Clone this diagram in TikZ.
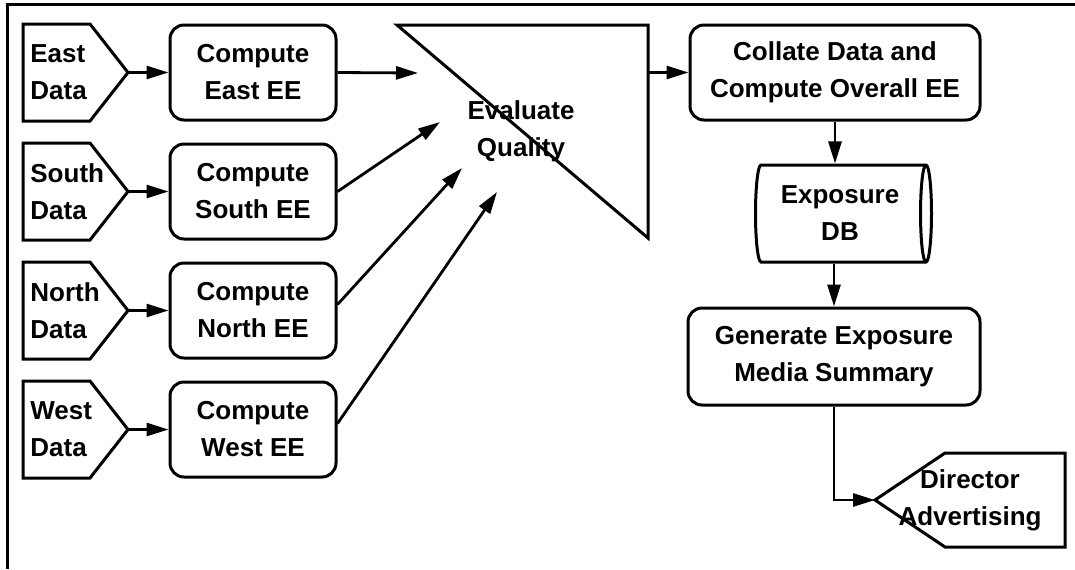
\documentclass[tikz,border=0pt]{standalone}
\usepackage{fontspec}
\setmainfont{Liberation Sans}
\usetikzlibrary{shapes.geometric, arrows.meta}

\tikzset{
    proc/.style={draw, rounded corners=7pt, line width=1.5pt, align=center, inner sep=0pt},
    src/.style={draw, line width=1.5pt, line join=miter},
    flow/.style={line width=1.4pt, -{Triangle[length=11pt, width=6.5pt]}},
}

\begin{document}
\begin{tikzpicture}[x=0.5pt, y=-0.5pt, font=\fontsize{13}{18.5}\selectfont\bfseries]
    \useasboundingbox (0,0) rectangle (1075,569);
    \draw[line width=1.5pt] (1075,4.5) -- (7,4.5) -- (7,569);

    % regional data
    \draw[src] (23,24) -- ++(67,0) -- ++(38,48.5) -- ++(-38,48.5) -- ++(-67,0) -- cycle;
    \draw[src] (23,143) -- ++(67,0) -- ++(38,48.5) -- ++(-38,48.5) -- ++(-67,0) -- cycle;
    \draw[src] (23,262) -- ++(67,0) -- ++(38,48.5) -- ++(-38,48.5) -- ++(-67,0) -- cycle;
    \draw[src] (23,381) -- ++(67,0) -- ++(38,48.5) -- ++(-38,48.5) -- ++(-67,0) -- cycle;

    \node[anchor=west, align=left, inner sep=0pt] (tE) at (30,72.5) {East\\Data};
    \node[anchor=west, align=left, inner sep=0pt] (tS) at (30,191.5) {South\\Data};
    \node[anchor=west, align=left, inner sep=0pt] (tN) at (30,310.5) {North\\Data};
    \node[anchor=west, align=left, inner sep=0pt] (tW) at (30,429.5) {West\\Data};

    \coordinate (pE) at (128,72.5);
    \coordinate (pS) at (128,191.5);
    \coordinate (pN) at (128,310.5);
    \coordinate (pW) at (128,429.5);

    \node[proc, minimum width=83pt, minimum height=47.5pt] (cE) at (253,72.5) {Compute\\East EE};
    \node[proc, minimum width=83pt, minimum height=47.5pt] (cS) at (253,191.5) {Compute\\South EE};
    \node[proc, minimum width=83pt, minimum height=47.5pt] (cN) at (253,310.5) {Compute\\North EE};
    \node[proc, minimum width=83pt, minimum height=47.5pt] (cW) at (253,429.5) {Compute\\West EE};

    \draw[flow] (pE) -- (cE);
    \draw[flow] (pS) -- (cS);
    \draw[flow] (pN) -- (cN);
    \draw[flow] (pW) -- (cW);

    % quality check
    \draw[src] (397,25) -- (648,25) -- (648,238) -- cycle;
    \node[align=center, inner sep=0pt] (evq) at (521,131) {Evaluate\\Quality};
    \coordinate (qE) at (418,73);
    \coordinate (qS) at (440,122);
    \coordinate (qN) at (462,168);
    \coordinate (qW) at (497,192);
    \coordinate (qOut) at (648,72.5);

    \draw[flow] (cE.east) -- (qE);
    \draw[flow] (cS.east) -- (qS);
    \draw[flow] ([yshift=3pt]cN.east) -- (qN);
    \draw[flow] ([yshift=3pt]cW.east) -- (qW);

    % overall
    \node[proc, minimum width=145pt, minimum height=47.5pt] (coll) at (835,72.5) {Collate Data and\\Compute Overall EE};
    \node[draw, cylinder, aspect=0.2, line width=1.5pt, align=center, inner sep=0pt,
          minimum width=48.5pt, minimum height=88pt] (db) at (840,213.5) {Exposure\\DB};
    \node[proc, minimum width=146pt, minimum height=48.5pt] (gen) at (834,356.5) {Generate Exposure\\Media Summary};

    \draw[src] (875,500) -- (945,453) -- (1065,453) -- (1065,547) -- (945,547) -- cycle;
    \node[align=center, inner sep=0pt] (dir) at (970,500) {Director\\Advertising};
    \coordinate (dTip) at (875,500);

    \draw[flow] (qOut) -- (coll);
    \draw[flow] (coll.south) -- (coll.south |- db.north);
    \draw[flow] (gen.north |- db.south) -- (gen.north);
    \draw[flow] (gen.south) |- (dTip);
\end{tikzpicture}
\end{document}
